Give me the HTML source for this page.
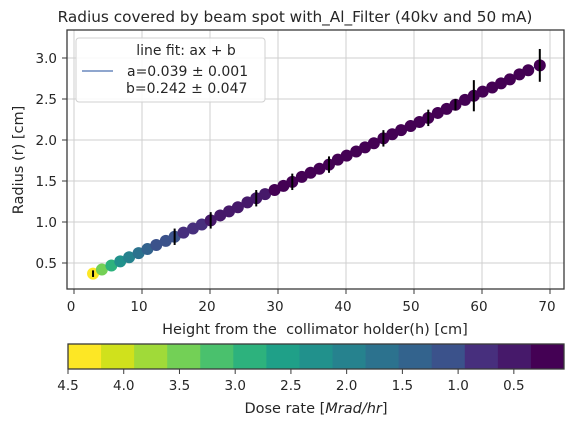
<!DOCTYPE html>
<html><head><meta charset="utf-8"><style>
html,body{margin:0;padding:0;background:#fff;}
svg{display:block;font-family:"DejaVu Sans","Liberation Sans",sans-serif;}
</style></head><body>
<svg id="chart" width="585" height="430" viewBox="0 0 585 430">
<text x="295" y="22" text-anchor="middle" font-size="15.3" fill="#262626">Radius covered by beam spot with_Al_Filter (40kv and 50 mA)</text>
<g id="grid"></g>
<g id="line"></g>
<g id="points"></g>
<g id="errs"></g>
<rect x="67" y="30" width="497" height="259" fill="none" stroke="#3a3a3a" stroke-width="1.3"/>
<g id="xticks"></g>
<g id="yticks"></g>
<text x="315" y="334" text-anchor="middle" font-size="14.5" fill="#262626" xml:space="preserve">Height from the  collimator holder(h) [cm]</text>
<text transform="translate(23,160) rotate(-90)" text-anchor="middle" font-size="14.5" fill="#262626">Radius (r) [cm]</text>
<g>
<rect x="76" y="38" width="189" height="64" rx="3" fill="#fff" fill-opacity="0.85" stroke="#d0d0d0"/>
<text x="186" y="55" text-anchor="middle" font-size="14" fill="#262626">line fit: ax + b</text>
<line x1="82" y1="71" x2="113" y2="71" stroke="#4c72b0" stroke-width="1.2"/>
<text x="127" y="76" font-size="14" fill="#262626">a=0.039 ± 0.001</text>
<text x="126" y="93" font-size="14" fill="#262626">b=0.242 ± 0.047</text>
</g>
<g id="cbar"></g>
<rect x="68" y="344" width="496" height="25" fill="none" stroke="#3a3a3a" stroke-width="1.3"/>
<text x="316" y="413" text-anchor="middle" font-size="14.5" fill="#262626">Dose rate [<tspan font-style="italic">Mrad/hr</tspan>]</text>
</svg>
<script>
const heights=[2.8,4.1,5.5,6.8,8.1,9.5,10.8,12.1,13.5,14.8,16.1,17.5,18.8,20.1,21.5,22.8,24.1,25.5,26.8,28.1,29.5,30.8,32.1,33.5,34.8,36.1,37.5,38.8,40.1,41.5,42.8,44.1,45.5,46.8,48.1,49.5,50.8,52.1,53.5,54.8,56.1,57.5,58.8,60.1,61.5,62.8,64.1,65.5,66.8,68.5];
const radii=[0.37,0.42,0.47,0.52,0.57,0.62,0.67,0.72,0.77,0.82,0.87,0.92,0.97,1.02,1.08,1.13,1.18,1.24,1.29,1.34,1.39,1.44,1.49,1.55,1.60,1.65,1.70,1.76,1.81,1.86,1.91,1.96,2.02,2.07,2.12,2.17,2.22,2.27,2.33,2.38,2.43,2.49,2.54,2.59,2.64,2.69,2.74,2.80,2.85,2.91];
const doses=[4.4,3.6,2.9,2.3,1.9,1.6,1.4,1.2,1.05,0.95,0.85,0.76,0.68,0.62,0.56,0.51,0.47,0.43,0.4,0.37,0.34,0.32,0.3,0.28,0.26,0.25,0.23,0.22,0.21,0.2,0.19,0.18,0.17,0.16,0.15,0.15,0.14,0.13,0.13,0.12,0.12,0.11,0.11,0.1,0.1,0.09,0.09,0.09,0.08,0.08];
const errors=[0.04,0,0,0,0,0,0,0,0,0.1,0,0,0,0.1,0,0,0,0,0.1,0,0,0,0.1,0,0,0,0.1,0,0,0,0,0,0.1,0,0,0,0,0.1,0,0,0.07,0,0.19,0,0,0,0,0,0,0.2];
const xTicks=[0,10,20,30,40,50,60,70];
const yTicks=[0.5,1.0,1.5,2.0,2.5,3.0];
const cbTicks=[4.5,4.0,3.5,3.0,2.5,2.0,1.5,1.0,0.5];
const fitA=0.039, fitB=0.242;
const cbColors=['#fde725','#d0e11c','#a0da39','#73d056','#4ac16d','#2db27d','#1fa088','#21918c','#26828e','#2c728e','#33638d','#3b528b','#472f7d','#46196a','#440154'];
const cbMax=4.5, cbMin=0.05;

const NS='http://www.w3.org/2000/svg';
const X=v=>74+6.8*v, Y=v=>263-82*(v-0.5);
const C=v=>68+(cbMax-v)/(cbMax-cbMin)*496;
function mk(tag,attrs,parent){const e=document.createElementNS(NS,tag);for(const k in attrs)e.setAttribute(k,attrs[k]);parent.appendChild(e);return e;}
const g=id=>document.getElementById(id);
xTicks.forEach(t=>{
 const l=mk('line',{x1:X(t),x2:X(t),y1:30,y2:289,stroke:'#cfcfcf','stroke-width':1},g('grid'));
 
 
 const tk=mk('line',{x1:X(t),x2:X(t),y1:289,y2:294,stroke:'#3a3a3a','stroke-width':1},g('xticks'));
 
 
 const tx=mk('text',{x:X(t)-3,y:311,'text-anchor':'middle','font-size':13.5,fill:'#262626'},g('xticks'));
 tx.textContent=t;
 
 
});
yTicks.forEach(t=>{
 const l=mk('line',{x1:67,x2:564,y1:Y(t),y2:Y(t),stroke:'#cfcfcf','stroke-width':1},g('grid'));
 
 
 const tk=mk('line',{x1:62,x2:67,y1:Y(t),y2:Y(t),stroke:'#3a3a3a','stroke-width':1},g('yticks'));
 
 
 const tx=mk('text',{x:57,y:Y(t)+5,'text-anchor':'end','font-size':13.5,fill:'#262626'},g('yticks'));
 tx.textContent=t.toFixed(1);
 
 
});
function colorFor(d){let i=Math.floor((cbMax-d)/(cbMax-cbMin)*cbColors.length);i=Math.max(0,Math.min(cbColors.length-1,i));return cbColors[i];}
heights.forEach((h,i)=>{
 const c=mk('circle',{cx:X(h),cy:Y(radii[i]),r:6,fill:colorFor(doses[i])},g('points'));
 
 
 if(errors[i]>0){
  const e=mk('line',{x1:X(h),x2:X(h),y1:Y(radii[i]-errors[i]),y2:Y(radii[i]+errors[i]),stroke:'#000','stroke-width':2},g('errs'));
  
  
 }
});
const h0=heights[0],h1=heights[heights.length-1];
const fl=mk('line',{x1:X(h0),y1:Y(fitA*h0+fitB+0.02),x2:X(h1),y2:Y(fitA*h1+fitB),stroke:'#4c72b0','stroke-width':1.3},g('line'));


const step=(cbMax-cbMin)/cbColors.length;
cbColors.forEach((col,i)=>{
 const a=cbMax-i*step,b=a-step;
 const r=mk('rect',{x:C(a),y:344,width:C(b)-C(a)+0.5,height:25,fill:col},g('cbar'));
 
 
});
cbTicks.forEach(t=>{
 const tk=mk('line',{x1:C(t),x2:C(t),y1:369,y2:374,stroke:'#3a3a3a','stroke-width':1},g('cbar'));
 
 
 const tx=mk('text',{x:C(t),y:390,'text-anchor':'middle','font-size':13.5,fill:'#262626'},g('cbar'));
 tx.textContent=t.toFixed(1);
 
 
});
</script>
</body></html>
